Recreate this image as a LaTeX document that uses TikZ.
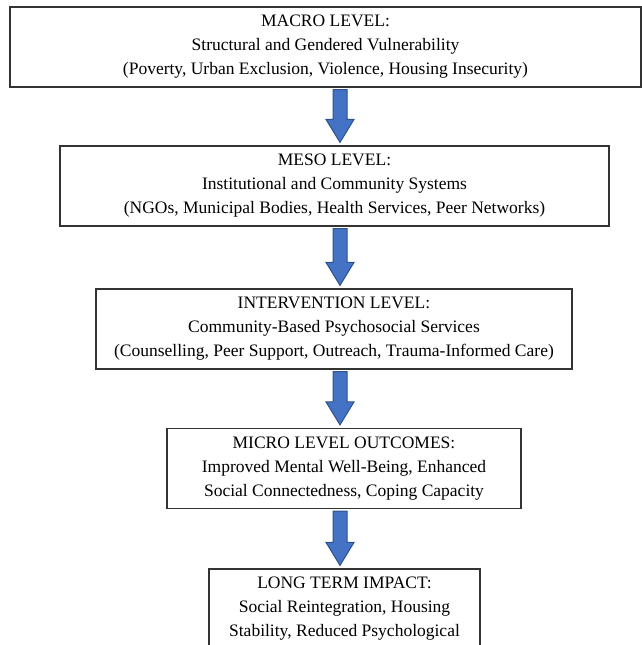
\documentclass[tikz,border=0pt]{standalone}
\usepackage{fontspec}
\setmainfont{Liberation Serif}
\usetikzlibrary{calc}
\definecolor{arrowblue}{HTML}{4472C4}
\definecolor{arrowedge}{HTML}{2F528F}

\begin{document}
\begin{tikzpicture}[
  x=1pt,
  y=-1pt,
  levelbox/.style={draw=black!80,line width=1.2pt,fill=white,align=center,
    minimum height=80pt,inner sep=0pt,font=\fontsize{17.5pt}{24pt}\selectfont},
  flowarrow/.style={fill=arrowblue,draw=arrowedge,line width=1pt,line join=miter}
]
  \useasboundingbox (0,0) rectangle (642,645);

  % Level boxes, top to bottom.
  \node[levelbox,minimum width=631pt] (macro) at (325.5,47)
    {MACRO LEVEL:\\Structural and Gendered Vulnerability\\(Poverty, Urban Exclusion, Violence, Housing Insecurity)};
  \node[levelbox,minimum width=549pt] (meso) at (334.5,186)
    {MESO LEVEL:\\Institutional and Community Systems\\(NGOs, Municipal Bodies, Health Services, Peer Networks)};
  \node[levelbox,minimum width=476pt] (interv) at (334,329)
    {INTERVENTION LEVEL:\\Community-Based Psychosocial Services\\(Counselling, Peer Support, Outreach, Trauma-Informed Care)};
  \node[levelbox,minimum width=354pt] (micro) at (344,468.5)
    {MICRO LEVEL OUTCOMES:\\Improved Mental Well-Being, Enhanced\\Social Connectedness, Coping Capacity};
  \node[levelbox,minimum width=271pt] (impact) at (344.5,609)
    {LONG TERM IMPACT:\\Social Reintegration, Housing\\Stability, Reduced Psychological};

  % Block arrows between the levels.
  \foreach \a/\b in {macro/meso,meso/interv,interv/micro,micro/impact} {
    \filldraw[flowarrow] let \p1=(\a.south), \p2=(\b.north) in
      (333pt,\y1-2pt) -- (347pt,\y1-2pt) -- (347pt,\y2+26pt) -- (354pt,\y2+26pt)
      -- (340pt,\y2+3pt) -- (326pt,\y2+26pt) -- (333pt,\y2+26pt) -- cycle;
  }
\end{tikzpicture}
\end{document}
